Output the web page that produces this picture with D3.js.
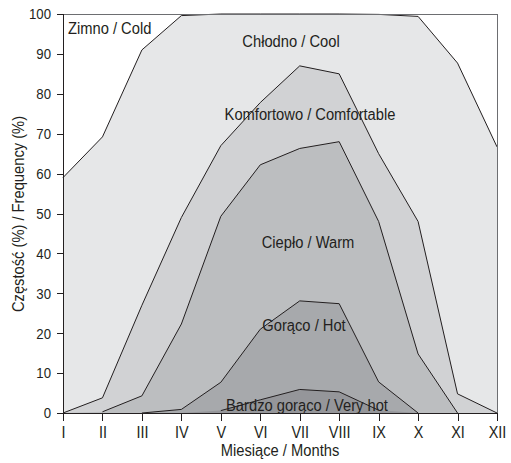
<!DOCTYPE html>
<head>
<meta charset="utf-8">
<script src="https://d3js.org/d3.v7.min.js"></script>
<style>
  body { margin: 0; background: #fff; }
  svg text { font-family: "Liberation Sans", Arial, sans-serif; fill: #231f20; }
  .axis path, .axis line { stroke: #231f20; shape-rendering: crispEdges; }
  .lbl { font-size: 16px; }
</style>
</head>
<body>
<div class="chart"></div>
<script>
var months = ["I", "II", "III", "IV", "V", "VI", "VII", "VIII", "IX", "X", "XI", "XII"];
var yTicks = [0, 10, 20, 30, 40, 50, 60, 70, 80, 90, 100];

// upper limits of each class (cumulative %), null = class not present
var coldLimit    = [59, 69.2, 91, 99.6, 100, 100, 100, 100, 99.9, 99.4, 87.7, 66.7];
var coolLimit    = [0, 3.8, 27, 49, 67, 77.8, 87, 85, 65, 48, 4.8, 0];
var warmLimit    = [null, 0.3, 4.3, 22.3, 49.3, 62.2, 66.3, 68, 48, 14.8, 0, null];
var hotLimit     = [null, null, 0, 0.9, 7.7, 21, 28.1, 27.4, 7.8, 0, null, null];
var veryHotLimit = [null, null, null, null, 0.6, 3.3, 5.9, 5.3, 0.7, null, null, null];

var layers = [
  {vals: coldLimit,    fill: "#e6e7e8"},
  {vals: coolLimit,    fill: "#d1d2d4"},
  {vals: warmLimit,    fill: "#bcbec0"},
  {vals: hotLimit,     fill: "#a7a9ac"},
  {vals: veryHotLimit, fill: "#95969a"}
];

var labels = [
  {text: "Zimno / Cold", x: 68, y: 34, anchor: "start"},
  {text: "Chłodno / Cool", x: 291, y: 47, anchor: "middle"},
  {text: "Komfortowo / Comfortable", x: 310, y: 120, anchor: "middle"},
  {text: "Ciepło / Warm", x: 308, y: 248, anchor: "middle"},
  {text: "Gorąco / Hot", x: 304, y: 331, anchor: "middle"},
  {text: "Bardzo gorąco / Very hot", x: 307, y: 411, anchor: "middle"}
];

var W = 511, H = 463;
var margin = {top: 14, right: 14, bottom: 50, left: 63};
var width = W - margin.left - margin.right,
    height = H - margin.top - margin.bottom;
var squeeze = 0.92; // narrow the glyphs like the condensed face of the original

var svg = d3.select(".chart").append("svg")
    .attr("width", W).attr("height", H);
var g = svg.append("g")
    .attr("transform", "translate(" + margin.left + "," + margin.top + ")");

var x = d3.scalePoint().domain(months).range([0, width]);
var y = d3.scaleLinear().domain([0, 100]).range([height, 0]);

var area = d3.area()
    .x(function(d, i) { return x(months[i]); })
    .y0(y(0))
    .y1(function(d) { return y(d == null ? 0 : d); });

var line = d3.line()
    .defined(function(d) { return d != null; })
    .x(function(d, i) { return x(months[i]); })
    .y(function(d) { return y(d); });

layers.forEach(function(l) {
  g.append("path").attr("d", area(l.vals)).attr("fill", l.fill);
});
layers.forEach(function(l) {
  g.append("path").attr("d", line(l.vals))
    .attr("fill", "none").attr("stroke", "#231f20").attr("stroke-width", 1);
});

// frame top and right
g.append("line").attr("x1", 0).attr("x2", width).attr("y1", 0.5).attr("y2", 0.5)
  .attr("stroke", "#6d6e71");
g.append("line").attr("x1", width + 0.5).attr("x2", width + 0.5).attr("y1", 0).attr("y2", height)
  .attr("stroke", "#6d6e71");

function addText(txt, px, py, anchor, rot) {
  svg.append("text").attr("class", "lbl")
    .attr("transform", "translate(" + px + "," + py + ")" + (rot ? " rotate(" + rot + ")" : "") + " scale(" + squeeze + ",1)")
    .attr("text-anchor", anchor).text(txt);
}

labels.forEach(function(l) { addText(l.text, l.x, l.y, l.anchor); });

var xAxis = g.append("g").attr("class", "axis")
    .attr("transform", "translate(0," + height + ")")
    .call(d3.axisBottom(x).tickSize(8).tickPadding(5));
xAxis.selectAll("text").style("font-size", "17px")
    .attr("transform", "scale(0.85,1)");

var yAxis = g.append("g").attr("class", "axis")
    .call(d3.axisLeft(y).tickValues(yTicks).tickSize(6).tickPadding(6));
yAxis.selectAll("text").style("font-size", "15px")
    .attr("x", -12 / 0.88).attr("transform", "scale(0.88,1)");

addText("Miesiące / Months", 280, 456, "middle");
addText("Częstość (%) / Frequency (%)", 24, 214, "middle", -90);
</script>
</body>
